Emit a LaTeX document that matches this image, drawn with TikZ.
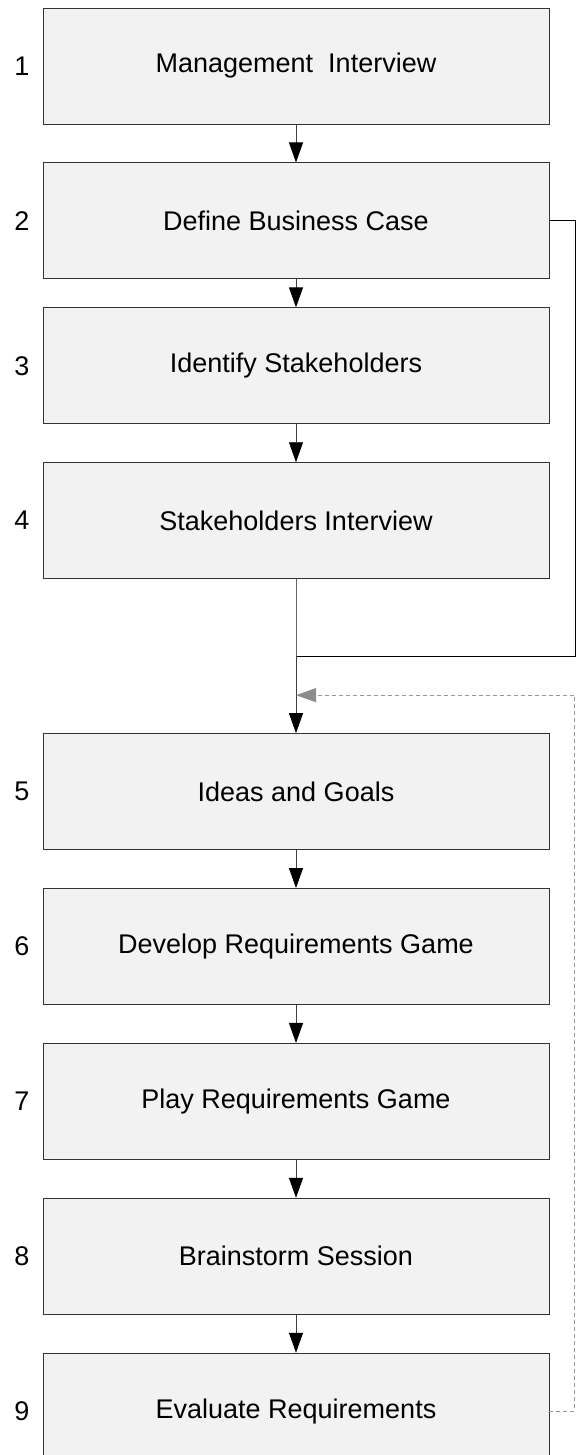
\documentclass[tikz,border=0pt]{standalone}
\usepackage{fontspec}
\setmainfont{Liberation Sans}
\usetikzlibrary{arrows.meta, positioning}

\definecolor{boxfill}{HTML}{F2F2F2}
\definecolor{boxline}{HTML}{333333}
\definecolor{loopgray}{HTML}{999999}

\begin{document}
\begin{tikzpicture}[x=1pt, y=1pt, node distance=38pt,
  stepbox/.style={draw=boxline, fill=boxfill, line width=0.9pt, minimum width=506pt, minimum height=116pt, font=\fontsize{27}{32}\selectfont},
  num/.style={inner sep=0pt, font=\fontsize{27}{32}\selectfont},
  link/.style={-{Triangle[length=20pt, width=14pt, color=black]}, line width=0.9pt, draw=black!75},
  back/.style={-{Triangle[length=20pt, width=14pt, color=black!45]}, line width=0.9pt, draw=loopgray, dash pattern=on 4pt off 3pt}]
\useasboundingbox (0,0) rectangle (579,-1455);
\clip (0,0) rectangle (579,-1455);

% the nine steps
\node[stepbox] (b1) at (296,-66) {Management\ \ Interview};
\node[stepbox, below=of b1] (b2) {Define Business Case};
\node[stepbox, below=28pt of b2] (b3) {Identify Stakeholders};
\node[stepbox, below=of b3] (b4) {Stakeholders Interview};
\node[stepbox, below=154pt of b4] (b5) {Ideas and Goals};
\node[stepbox, below=of b5] (b6) {Develop Requirements Game};
\node[stepbox, below=of b6] (b7) {Play Requirements Game};
\node[stepbox, below=of b7] (b8) {Brainstorm Session};
\node[stepbox, below=of b8] (b9) {Evaluate Requirements};

\foreach \i in {1,...,9}
  \node[num, left=13pt of b\i] (n\i) {\i};

\foreach \a/\b in {b1/b2, b2/b3, b3/b4, b5/b6, b6/b7, b7/b8, b8/b9}
  \draw[link] (\a) -- (\b);

% merge of the two branches above step 5
\coordinate[below=77pt of b4.south] (join);
\coordinate[below=39pt of join] (loopin);
\draw[line width=0.9pt, draw=black!60] (b4) -- (join);
\draw[line width=0.9pt] (b2.east) -- ++(26,0) |- (join);
\draw[link] (join) -- (b5);

% loop back from the evaluation
\draw[back] (b9.east) -- ++(25,0) |- (loopin);
\end{tikzpicture}
\end{document}
